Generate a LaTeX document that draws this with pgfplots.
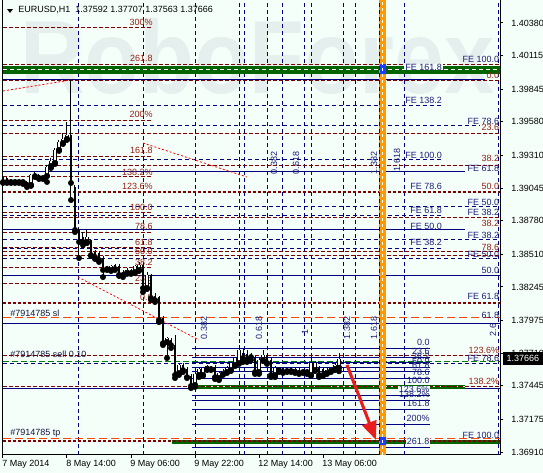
\documentclass[border=0pt]{standalone}
\usepackage{fontspec}
\setmainfont{Liberation Sans}
\usepackage{pgfplots}
\pgfplotsset{compat=1.18}
\usepackage{pgfplotstable}
\usetikzlibrary{arrows.meta}

\definecolor{bg}{RGB}{245,255,250}
\definecolor{fibR}{RGB}{128,0,0}
\definecolor{fibB}{RGB}{0,0,128}
\definecolor{band}{RGB}{0,100,0}
\definecolor{slc}{RGB}{255,69,0}
\definecolor{ordg}{RGB}{0,128,0}
\definecolor{vorange}{RGB}{255,153,0}
\definecolor{arrowred}{RGB}{232,30,30}
\definecolor{wm}{RGB}{229,239,237}
\definecolor{labR}{RGB}{150,30,20}
\definecolor{labB}{RGB}{30,30,120}
\definecolor{ordtxt}{RGB}{20,20,60}
\definecolor{boxblue}{RGB}{30,60,255}

\tikzset{
  rdash/.style={fibR, line width=0.75pt, dash pattern=on 3pt off 1.5pt},
  rthick/.style={fibR, line width=1.6pt, dash pattern=on 2.25pt off 1.5pt},
  bdash/.style={fibB, line width=0.75pt, dash pattern=on 3pt off 2.25pt},
  bsolid/.style={fibB, line width=0.75pt},
  sltp/.style={slc, line width=0.75pt, dash pattern=on 6pt off 3pt},
  ordl/.style={ordg, line width=0.75pt, dash pattern=on 4.5pt off 2.25pt},
  lbl/.style={font=\fontsize{6.75}{8}\selectfont, inner sep=0pt},
}

% H1 candles: bar index, open, close, high, low
\pgfplotstableread{
i o c h l
0 1.39134 1.39094 1.39150 1.39086
1 1.39126 1.39094 1.39134 1.39086
2 1.39110 1.39094 1.39118 1.39086
3 1.39102 1.39094 1.39110 1.39086
4 1.39102 1.39094 1.39110 1.39086
5 1.39102 1.39094 1.39110 1.39078
6 1.39094 1.39070 1.39102 1.39053
8 1.39150 1.39142 1.39175 1.39134
9 1.39150 1.39126 1.39159 1.39118
10 1.39134 1.39126 1.39142 1.39118
17 1.39474 1.39086 1.39919 1.38948
18 1.39053 1.38706 1.39070 1.38689
19 1.38706 1.38609 1.38722 1.38479
20 1.38649 1.38609 1.38689 1.38584
22 1.38609 1.38503 1.38625 1.38495
23 1.38528 1.38487 1.38544 1.38471
24 1.38520 1.38463 1.38536 1.38447
25 1.38479 1.38382 1.38495 1.38325
26 1.38398 1.38390 1.38414 1.38382
28 1.38422 1.38390 1.38431 1.38382
29 1.38414 1.38342 1.38431 1.38334
30 1.38366 1.38342 1.38382 1.38325
32 1.38374 1.38358 1.38390 1.38350
35 1.38422 1.38236 1.38439 1.38204
37 1.38342 1.38156 1.38350 1.38139
38 1.38172 1.38139 1.38196 1.38123
39 1.38164 1.37978 1.38172 1.37961
40 1.37994 1.37791 1.38010 1.37775
42 1.37816 1.37775 1.37832 1.37751
43 1.37775 1.37533 1.37856 1.37508
45 1.37614 1.37573 1.37630 1.37557
46 1.37581 1.37516 1.37597 1.37508
47 1.37525 1.37444 1.37541 1.37427
52 1.37597 1.37581 1.37605 1.37573
53 1.37597 1.37516 1.37614 1.37500
60 1.37711 1.37670 1.37751 1.37638
61 1.37703 1.37654 1.37735 1.37638
62 1.37686 1.37678 1.37711 1.37654
63 1.37670 1.37557 1.37686 1.37541
66 1.37694 1.37630 1.37703 1.37622
67 1.37654 1.37533 1.37670 1.37516
69 1.37581 1.37573 1.37597 1.37557
70 1.37581 1.37557 1.37589 1.37549
71 1.37573 1.37565 1.37581 1.37557
72 1.37581 1.37565 1.37589 1.37557
74 1.37573 1.37549 1.37589 1.37541
75 1.37565 1.37557 1.37573 1.37549
76 1.37565 1.37557 1.37581 1.37541
79 1.37589 1.37533 1.37605 1.37516
80 1.37581 1.37533 1.37597 1.37525
}\bear

\pgfplotstableread{
i o c h l
7 1.39070 1.39150 1.39159 1.39062
11 1.39142 1.39215 1.39231 1.39094
12 1.39223 1.39264 1.39288 1.39207
13 1.39248 1.39353 1.39369 1.39239
14 1.39353 1.39417 1.39434 1.39345
15 1.39409 1.39442 1.39490 1.39401
16 1.39442 1.39474 1.39579 1.39434
21 1.38609 1.38649 1.38706 1.38600
27 1.38382 1.38414 1.38422 1.38374
31 1.38358 1.38382 1.38398 1.38350
33 1.38366 1.38414 1.38422 1.38358
34 1.38382 1.38422 1.38447 1.38374
36 1.38236 1.38342 1.38366 1.38228
41 1.37800 1.37832 1.37840 1.37670
44 1.37549 1.37614 1.37630 1.37533
48 1.37452 1.37541 1.37557 1.37436
49 1.37533 1.37581 1.37597 1.37516
50 1.37533 1.37589 1.37597 1.37525
51 1.37581 1.37605 1.37614 1.37573
54 1.37508 1.37549 1.37565 1.37492
55 1.37541 1.37565 1.37581 1.37533
56 1.37557 1.37589 1.37605 1.37549
57 1.37573 1.37630 1.37638 1.37565
58 1.37614 1.37670 1.37678 1.37605
59 1.37630 1.37735 1.37775 1.37622
64 1.37557 1.37654 1.37670 1.37541
65 1.37654 1.37694 1.37735 1.37646
68 1.37533 1.37589 1.37605 1.37516
73 1.37557 1.37581 1.37597 1.37549
77 1.37533 1.37630 1.37670 1.37525
78 1.37573 1.37630 1.37646 1.37565
81 1.37549 1.37573 1.37589 1.37541
82 1.37565 1.37589 1.37597 1.37557
83 1.37581 1.37614 1.37630 1.37573
84 1.37592 1.37666 1.37707 1.37563
}\bull

% horizontal segment: style, x from, x to, price
\newcommand{\hl}[4]{\addplot[#1] coordinates {(#2,#4) (#3,#4)};}
% vertical line over the full price range
\newcommand{\vl}[2]{\addplot[#1] coordinates {(#2,1.36886) (#2,1.40566)};}
% text label: colour, anchor, x, price, text
\newcommand{\lab}[5]{\node[lbl, text=#1, anchor=#2] at (axis cs:#3,#4) {#5};}
\newcommand{\rlab}[3]{\node[lbl, text=labB, rotate=90] at (axis cs:#1,#2) {#3};}

\begin{document}
\begin{tikzpicture}
\fill[bg] (-2.25pt,-13.5pt) rectangle (405pt,341.25pt);
\begin{axis}[
  scale only axis, width=372.75pt, height=341.25pt,
  xmin=0, xmax=124.25, ymin=1.36886, ymax=1.40566,
  axis background/.style={fill=bg},
  axis line style={black, line width=0.75pt},
  clip mode=individual,
  tick align=outside, major tick length=2.25pt,
  tick style={black, line width=0.75pt},
  xtick pos=bottom, ytick pos=right, yticklabel pos=right,
  xtick={0,16,32,48,64,80},
  xticklabels={7 May 2014, 8 May 14:00, 9 May 06:00, 9 May 22:00, 12 May 14:00, 13 May 06:00},
  ytick={1.40380,1.40115,1.39845,1.39580,1.39310,1.39045,1.38780,1.38510,1.38245,1.37975,1.37710,1.37445,1.37175,1.36910},
  yticklabels={1.40380,1.40115,1.39845,1.39580,1.39310,1.39045,1.38780,1.38510,1.38245,1.37975,1.37710,1.37445,1.37175,1.36910},
  tick label style={font=\fontsize{6.75}{8}\selectfont, text=black},
  xticklabel style={anchor=north west, inner sep=0pt, xshift=-0.75pt, yshift=-1.5pt},
  yticklabel style={anchor=west, inner sep=0pt, xshift=6pt},
]

% watermark
\node[text=wm, font=\fontsize{78}{80}\selectfont\bfseries, xscale=0.865, anchor=base] at (axis cs:63.6,1.39806) {RoboForex};

% Fibonacci time zones
\vl{bdash}{19}
\vl{bdash}{35}
\vl{bdash}{48}
\vl{bdash}{59}
\vl{bdash}{60.25}
\vl{bdash}{66}
\vl{bdash}{69.75}
\vl{bdash}{75.25}
\vl{bdash}{77}
\vl{bdash}{85}
\vl{bdash}{88}
\vl{bdash}{94}
\vl{bdash}{100.25}
\vl{bdash}{123.75}

% retracement levels (maroon)
\hl{rdash}{0}{37.5}{1.40340}
\hl{rdash}{0}{125}{1.40048}
\hl{rdash}{0}{125}{1.39911}
\hl{rdash}{0}{37.5}{1.39595}
\hl{rdash}{0}{125}{1.39490}
\hl{rdash}{0}{37.5}{1.39304}
\hl{rdash}{0}{125}{1.39231}
\hl{rdash}{0}{37.5}{1.39142}
\hl{rthick}{0}{125}{1.39013}
\hl{rdash}{0}{37.5}{1.38851}
\hl{rdash}{0}{125}{1.38803}
\hl{rdash}{0}{37.5}{1.38689}
\hl{rdash}{0}{37.5}{1.38568}
\hl{rdash}{0}{125}{1.38528}
\hl{rdash}{0}{125}{1.38503}
\hl{rdash}{0}{37.5}{1.38406}
\hl{rdash}{0}{37.5}{1.38277}
\hl{rthick}{0}{125}{1.38115}
\hl{rdash}{0}{125}{1.37694}

% expansion levels (navy)
\hl{bdash}{0}{110}{1.39709}
\hl{bdash}{0}{119.25}{1.39547}
\hl{bdash}{0}{110}{1.39272}
\hl{bdash}{0}{125}{1.38892}
\hl{bdash}{0}{110}{1.38827}
\hl{bdash}{0}{125}{1.38625}
\hl{bdash}{0}{110}{1.38560}
\hl{bdash}{0}{125}{1.38479}
\hl{bdash}{0}{125}{1.37630}
\hl{bsolid}{0}{120.5}{1.39919}
\hl{bsolid}{0}{115.5}{1.39175}
\hl{bsolid}{0}{115.5}{1.38706}
\hl{bsolid}{0}{125}{1.38334}
\hl{bsolid}{0}{125}{1.37953}
\hl{bsolid}{0}{125}{1.37427}
\hl{bsolid}{47.25}{106.75}{1.37751}
\hl{bsolid}{47.25}{106.75}{1.37678}
\hl{bsolid}{47.25}{106.75}{1.37634}
\hl{bsolid}{47.25}{106.75}{1.37597}
\hl{bsolid}{47.25}{106.75}{1.37561}
\hl{bsolid}{47.25}{106.75}{1.37508}
\hl{bsolid}{47.25}{106.75}{1.37444}
\hl{bsolid}{47.25}{106.75}{1.37371}
\hl{bsolid}{47.25}{106.75}{1.37327}
\hl{bsolid}{47.25}{106.75}{1.37254}
\hl{bsolid}{47.25}{106.75}{1.37136}
\hl{bsolid}{47.25}{106.75}{1.36946}

% green zones
\hl{band, line width=6pt}{0}{125}{1.40000}
\hl{white, line width=0.75pt, dash pattern=on 3pt off 2.25pt}{0}{125}{1.40000}
\hl{band, line width=3pt}{48}{115.5}{1.37436}
\hl{white, line width=0.75pt, dash pattern=on 3pt off 2.25pt}{48}{115.5}{1.37436}
\hl{band, line width=3.5pt}{42.25}{125}{1.36991}
\hl{rthick}{0}{125}{1.36999}
\hl{rdash}{0}{125}{1.37440}

% order lines
\hl{sltp}{0}{125}{1.37994}
\hl{sltp}{0}{125}{1.37023}
\hl{ordl}{0}{125}{1.37646}

% base lines of the Fibonacci tools
\addplot[red, line width=0.6pt, dash pattern=on 1.5pt off 1.5pt] coordinates {(0,1.39830) (17,1.39919)};
\addplot[red, line width=0.6pt, dash pattern=on 1.5pt off 1.5pt] coordinates {(35,1.39409) (61,1.39134)};
\addplot[red, line width=0.6pt, dash pattern=on 1.5pt off 1.5pt] coordinates {(18.75,1.38325) (49,1.37816)};

% level labels, left tool
\lab{labR}{east}{37.5}{1.40388}{300\%}
\lab{labR}{east}{37.5}{1.40097}{261.8}
\lab{labR}{east}{37.5}{1.39644}{200\%}
\lab{labR}{east}{37.5}{1.39353}{161.8}
\lab{labR}{east}{37.5}{1.39175}{138.2\%}
\lab{labR}{east}{37.5}{1.39062}{123.6\%}
\lab{labR}{east}{37.5}{1.38892}{100.0}
\lab{labR}{east}{37.5}{1.38738}{78.6}
\lab{labR}{east}{37.5}{1.38609}{61.8}
\lab{labR}{east}{37.5}{1.38536}{50.0}
\lab{labR}{east}{37.5}{1.38447}{38.2}
\lab{labR}{east}{37.5}{1.38317}{23.6}
\lab{labR}{east}{37.5}{1.38164}{0.0}

% level labels, right edge
\lab{labB}{east}{124.1}{1.40089}{FE 100.0}
\lab{labR}{east}{124.1}{1.39959}{0.0}
\lab{labB}{east}{124.1}{1.39587}{FE 78.6}
\lab{labR}{east}{124.1}{1.39539}{23.6}
\lab{labR}{east}{124.1}{1.39288}{38.2}
\lab{labB}{east}{124.1}{1.39207}{FE 61.8}
\lab{labR}{east}{124.1}{1.39062}{50.0}
\lab{labB}{east}{124.1}{1.38932}{FE 50.0}
\lab{labB}{east}{124.1}{1.38851}{FE 38.2}
\lab{labR}{east}{124.1}{1.38762}{38.2}
\lab{labB}{east}{124.1}{1.38665}{FE 38.2}
\lab{labR}{east}{124.1}{1.38568}{78.6}
\lab{labB}{east}{124.1}{1.38511}{FE 50.0}
\lab{labB}{east}{124.1}{1.38382}{50.0}
\lab{labB}{east}{124.1}{1.38172}{FE 61.8}
\lab{labB}{east}{124.1}{1.38018}{61.8}
\lab{labR}{east}{124.1}{1.37735}{123.6\%}
\lab{labB}{east}{124.1}{1.37670}{FE 78.6}
\lab{labR}{east}{124.1}{1.37484}{138.2\%}
\lab{labB}{east}{124.1}{1.37047}{FE 100.0}

% level labels, middle
\node[lbl, text=labB, anchor=west, fill=bg, inner xsep=0.75pt] at (axis cs:100.25,1.40024) {FE 161.8};
\lab{labB}{west}{100.5}{1.39757}{FE 138.2}
\lab{labB}{west}{100.5}{1.39312}{FE 100.0}
\lab{labB}{west}{101.75}{1.39062}{FE 78.6}
\lab{labB}{west}{101.75}{1.38867}{FE 61.8}
\lab{labB}{west}{101.75}{1.38738}{FE 50.0}
\lab{labB}{west}{101.75}{1.38609}{FE 38.2}

% expansion labels
\lab{labB}{east}{106.75}{1.37800}{0.0}
\lab{labB}{east}{106.75}{1.37727}{23.6}
\lab{labB}{east}{106.75}{1.37682}{38.2}
\lab{labB}{east}{106.75}{1.37646}{50.0}
\lab{labB}{east}{106.75}{1.37609}{61.8}
\lab{labB}{east}{106.75}{1.37557}{78.6}
\lab{labB}{east}{106.75}{1.37492}{100.0}
\node[lbl, text=labB, anchor=east, fill=bg, inner xsep=0.75pt] at (axis cs:106.9,1.37419) {123.6\%};
\lab{labB}{east}{106.75}{1.37375}{138.2\%}
\lab{labB}{east}{106.75}{1.37302}{161.8}
\lab{labB}{east}{106.75}{1.37185}{200\%}
\node[lbl, text=labB, anchor=east, fill=bg, inner xsep=0.75pt] at (axis cs:106.9,1.36995) {261.8};

% time zone labels
\rlab{67.75}{1.39248}{0.382}
\rlab{73.25}{1.39248}{0.618}
\rlab{92.75}{1.39248}{1.382}
\rlab{98.5}{1.39272}{1.618}
\rlab{50.25}{1.37913}{0.382}
\rlab{64}{1.37913}{0.618}
\rlab{75.5}{1.37880}{1}
\rlab{86}{1.37913}{1.382}
\rlab{92.75}{1.37913}{1.618}
\rlab{122.5}{1.37897}{2.6}

% order labels
\lab{ordtxt}{west}{1.75}{1.38034}{\#7914785 sl}
\lab{ordtxt}{west}{1.75}{1.37703}{\#7914785 sell 0.10}
\lab{ordtxt}{west}{1.75}{1.37063}{\#7914785 tp}

% candles: wicks, bodies, hollow bull bodies
\addplot[only marks, mark=none, error bars/.cd, y dir=plus, y explicit, error mark=none,
  error bar style={color=black, line width=0.75pt}]
  table[x=i, y=l, y error expr=\thisrow{h}-\thisrow{l}] {\bear};
\addplot[only marks, mark=none, error bars/.cd, y dir=plus, y explicit, error mark=none,
  error bar style={color=black, line width=0.75pt}]
  table[x=i, y=l, y error expr=\thisrow{h}-\thisrow{l}] {\bull};
\addplot[only marks, mark=none, error bars/.cd, y dir=plus, y explicit, error mark=none,
  error bar style={color=black, line width=2.1pt}]
  table[x=i, y=c, y error expr=\thisrow{o}-\thisrow{c}] {\bear};
\addplot[only marks, mark=none, error bars/.cd, y dir=plus, y explicit, error mark=none,
  error bar style={color=black, line width=2.3pt}]
  table[x=i, y=o, y error expr=\thisrow{c}-\thisrow{o}] {\bull};
\addplot[only marks, mark=none, error bars/.cd, y dir=plus, y explicit, error mark=none,
  error bar style={color=white, line width=0.95pt}]
  table[x=i, y=o, y error expr=\thisrow{c}-\thisrow{o}] {\bull};

% current time line
\addplot[vorange, line width=4.8pt] coordinates {(94.9,1.36886) (94.9,1.40566)};
\addplot[fill=boxblue, draw=none] coordinates {(94.2,1.40048) (95.75,1.40048) (95.75,1.39967) (94.2,1.39967)} \closedcycle;
\addplot[fill=boxblue, draw=none] coordinates {(94.2,1.37031) (95.75,1.37031) (95.75,1.36966) (94.2,1.36966)} \closedcycle;
\addplot[white, line width=0.75pt, dash pattern=on 2.25pt off 2.25pt] coordinates {(94.9,1.36886) (94.9,1.40566)};
\addplot[bdash] coordinates {(94.1,1.36886) (94.1,1.40566)};

% projected move
\addplot[arrowred, line width=2.3pt, -{Triangle[length=14pt, width=11pt]}] coordinates {(86,1.37614) (93.25,1.37007)};

% chart caption
\fill[black] (axis cs:1,1.40493) -- (axis cs:2.5,1.40493) -- (axis cs:1.75,1.40461) -- cycle;
\node[lbl, text=black, anchor=west] at (axis cs:3.75,1.40485) {EURUSD,H1\ \ 1.37592 1.37707 1.37563 1.37666};

% last price tag
\node[lbl, fill=black, text=white, anchor=west, inner xsep=2.8pt, minimum height=9.5pt] at (axis cs:124.25,1.37666) [xshift=2pt] {1.37666};
\end{axis}
\pgfresetboundingbox
\path[use as bounding box] (-2.25pt,-13.5pt) rectangle (405pt,341.25pt);
\end{tikzpicture}
\end{document}
